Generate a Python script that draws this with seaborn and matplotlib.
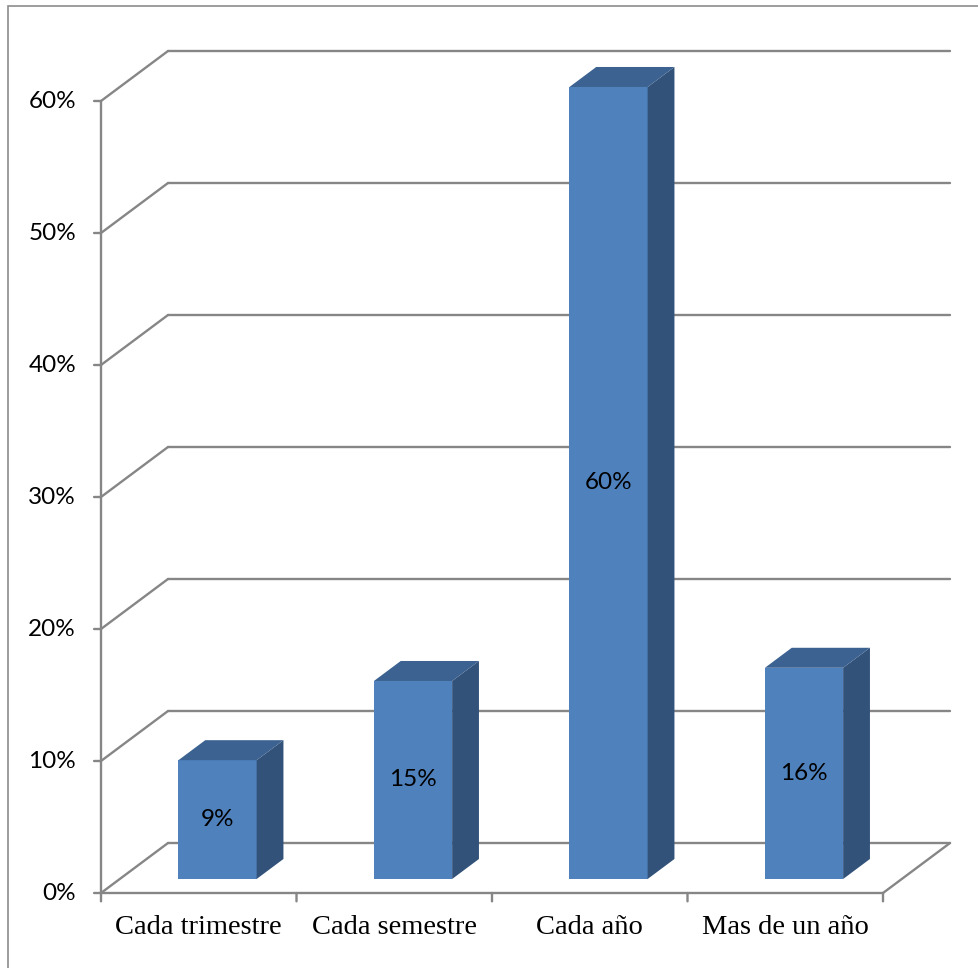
import matplotlib
matplotlib.use("Agg")
import matplotlib.pyplot as plt
from matplotlib.patches import Polygon, Rectangle
from matplotlib.transforms import Affine2D
import seaborn as sns

# ---------- data ----------
categories = ["Cada trimestre", "Cada semestre", "Cada año", "Mas de un año"]
values = [9, 15, 60, 16]
value_labels = ["9%", "15%", "60%", "16%"]
y_ticks = [0, 10, 20, 30, 40, 50, 60]
y_tick_labels = ["0%", "10%", "20%", "30%", "40%", "50%", "60%"]

# ---------- look ----------
front_col = "#4F81BD"
side_col = "#32527A"
top_col = "#3C6291"
grid_col = "#868686"
DX, DY = 0.343, 3.79          # depth of the fake 3d box (data units)
bar_front, bar_depth = 0.28, 0.40  # bar position/depth as fraction of the box depth
label_size = 17.5

sns.set_theme(style="white")
plt.rcParams["font.family"] = ["Lato", "DejaVu Sans"]

fig = plt.figure(figsize=(9.79, 9.68), dpi=100)
ax = fig.add_axes([0, 0, 1, 1])

# front faces of the bars
sns.barplot(x=categories, y=values, color=front_col, saturation=1,
            width=0.4, linewidth=0, ax=ax, zorder=3)
bars = list(ax.patches)

ax.set_xlim(-0.5 - 101 / 195.5, -0.5 + (979 - 101) / 195.5)
ax.set_ylim(-75 / 13.2, (968 - 75) / 13.2)
ax.axis("off")

x0, x1 = -0.5, len(categories) - 0.5

# back wall gridlines + left wall diagonals
for v in y_ticks:
    ax.plot([x0 + DX, x1 + DX], [v + DY, v + DY], color=grid_col, lw=1.7, zorder=1)
    ax.plot([x0, x0 + DX], [v, v + DY], color=grid_col, lw=1.7, zorder=1)
# floor right edge
ax.plot([x1, x1 + DX], [0, DY], color=grid_col, lw=1.7, zorder=1)

# bars: shift into the box and add side/top faces
shift = Affine2D().translate(bar_front * DX, bar_front * DY) + ax.transData
bdx, bdy = bar_depth * DX, bar_depth * DY
for bar, lab in zip(bars, value_labels):
    bx, bw, bh = bar.get_x(), bar.get_width(), bar.get_height()
    bar.set_transform(shift)
    side = Polygon([(bx + bw, 0), (bx + bw, bh), (bx + bw + bdx, bh + bdy), (bx + bw + bdx, bdy)],
                   closed=True, facecolor=side_col, edgecolor="none", transform=shift, zorder=3)
    top = Polygon([(bx, bh), (bx + bw, bh), (bx + bw + bdx, bh + bdy), (bx + bdx, bh + bdy)],
                  closed=True, facecolor=top_col, edgecolor="none", transform=shift, zorder=3)
    ax.add_patch(side)
    ax.add_patch(top)
    ax.text(bx + bw / 2, bh / 2, lab, transform=shift, ha="center", va="center",
            fontsize=label_size, color="black", zorder=4)

# front axes
ax.plot([x0, x0], [0, y_ticks[-1]], color=grid_col, lw=1.7, zorder=5)
ax.plot([x0, x1], [0, 0], color=grid_col, lw=1.7, zorder=5)
for v, lab in zip(y_ticks, y_tick_labels):
    ax.annotate("", xy=(x0, v), xytext=(-5, 0), textcoords="offset points",
                arrowprops=dict(arrowstyle="-", color=grid_col, lw=1.7, shrinkA=0, shrinkB=0))
    ax.annotate(lab, xy=(x0, v), xytext=(-18, 0), textcoords="offset points",
                ha="right", va="center", fontsize=label_size, color="black")
for i in range(len(categories) + 1):
    ax.annotate("", xy=(x0 + i, 0), xytext=(0, -6), textcoords="offset points",
                arrowprops=dict(arrowstyle="-", color=grid_col, lw=1.7, shrinkA=0, shrinkB=0))
for i, cat in enumerate(categories):
    ax.annotate(cat, xy=(i, 0), xytext=(0, -25), textcoords="offset points",
                ha="center", va="center", fontsize=20.5, family="Liberation Serif", color="black")

# outer chart border
fig.patches.append(Rectangle((8 / 979, -0.1), 1.2, 1.1 - 6 / 968, transform=fig.transFigure,
                             fill=False, edgecolor="#8c8c8c", lw=1.2))

fig.savefig("out.png", dpi=100)
